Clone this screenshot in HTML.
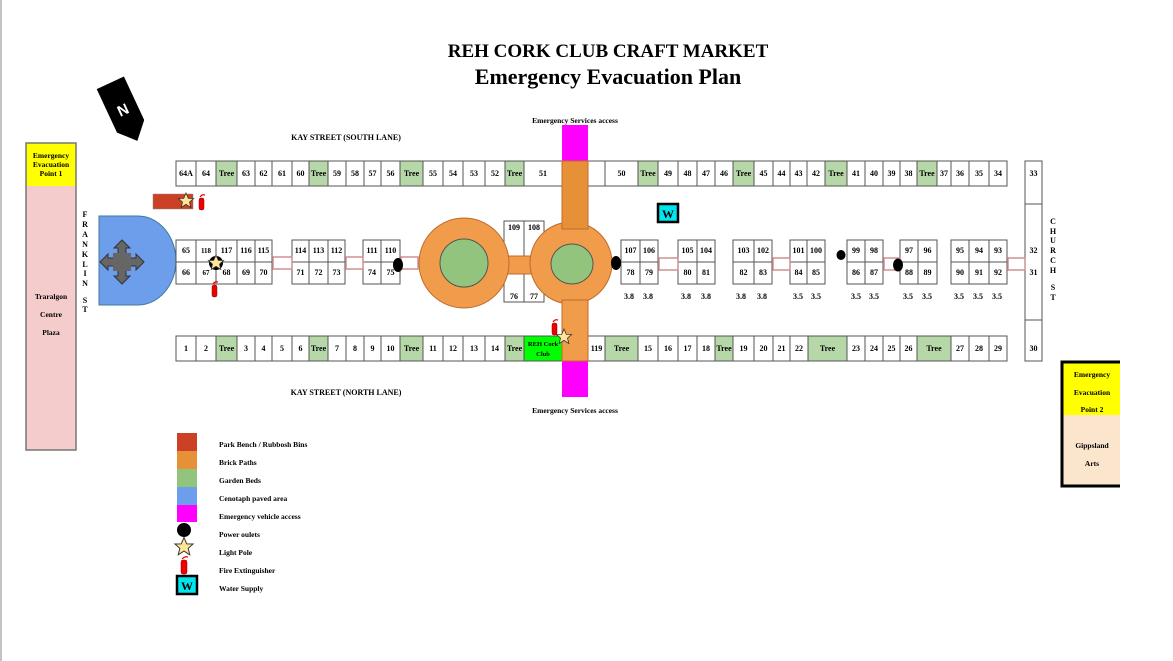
<!DOCTYPE html>
<html><head><meta charset="utf-8"><style>
html,body{margin:0;padding:0;background:#fff}
svg{display:block}
text{font-family:"Liberation Serif",serif;font-weight:bold;fill:#000}
.c{font-size:8px;text-anchor:middle}
.s rect{stroke:#555;stroke-width:1}
</style></head><body>
<svg width="1173" height="661" viewBox="0 0 1173 661" xmlns="http://www.w3.org/2000/svg">
<rect width="1173" height="661" fill="#fff"/>
<line x1="1" y1="0" x2="1" y2="661" stroke="#888" stroke-width="1"/>
<text x="608" y="57" font-size="19" text-anchor="middle">REH CORK CLUB CRAFT MARKET</text>
<text x="608" y="84" font-size="22" text-anchor="middle">Emergency Evacuation Plan</text>
<!-- North arrow -->
<g transform="translate(123,110) rotate(-25)">
<polygon points="-15,-30 15,-30 15,18 0,34 -15,18" fill="#000"/>
<text x="0" y="5" font-size="15" text-anchor="middle" style="fill:#fff;font-family:'Liberation Sans',sans-serif">N</text>
</g>
<text x="346" y="140" font-size="8" text-anchor="middle">KAY STREET (SOUTH LANE)</text>
<text x="346" y="395" font-size="8" text-anchor="middle">KAY STREET (NORTH LANE)</text>
<text x="575" y="123" font-size="7.5" text-anchor="middle">Emergency Services access</text>
<text x="575" y="413" font-size="7.5" text-anchor="middle">Emergency Services access</text>
<!-- Evac 1 -->
<rect x="26" y="143" width="50" height="43" fill="#ffff00"/>
<rect x="26" y="186" width="50" height="264" fill="#f4cccc"/>
<rect x="26" y="143" width="50" height="307" fill="none" stroke="#777" stroke-width="1.5"/>
<text x="51" y="158" font-size="7.5" text-anchor="middle">Emergency</text>
<text x="51" y="167" font-size="7.5" text-anchor="middle">Evacuation</text>
<text x="51" y="176" font-size="7.5" text-anchor="middle">Point 1</text>
<text x="51" y="299" font-size="7.5" text-anchor="middle">Traralgon</text>
<text x="51" y="317" font-size="7.5" text-anchor="middle">Centre</text>
<text x="51" y="335" font-size="7.5" text-anchor="middle">Plaza</text>
<g font-size="8" text-anchor="middle">
<text x="85" y="217">F</text><text x="85" y="227">R</text><text x="85" y="237">A</text><text x="85" y="247">N</text><text x="85" y="257">K</text><text x="85" y="267">L</text><text x="85" y="276">I</text><text x="85" y="286">N</text><text x="85" y="303">S</text><text x="85" y="312">T</text>
<text x="1053" y="224">C</text><text x="1053" y="234">H</text><text x="1053" y="243">U</text><text x="1053" y="253">R</text><text x="1053" y="263">C</text><text x="1053" y="273">H</text><text x="1053" y="290">S</text><text x="1053" y="300">T</text>
</g>
<!-- cenotaph -->
<path d="M99,216 H138 A38,45 0 0 1 176,261 A38,45 0 0 1 138,305 H99 Z" fill="#6d9eeb" stroke="#3d7a9e" stroke-width="1"/>
<polygon points="122,240 130,248 126,248 126,254 118,254 118,248 114,248" fill="#666" stroke="#333" stroke-width="1"/>
<polygon points="122,284 130,276 126,276 126,270 118,270 118,276 114,276" fill="#666" stroke="#333" stroke-width="1"/>
<polygon points="100,262 108,254 108,258 114,258 114,266 108,266 108,270" fill="#666" stroke="#333" stroke-width="1"/>
<polygon points="144,262 136,254 136,258 130,258 130,266 136,266 136,270" fill="#666" stroke="#333" stroke-width="1"/>
<rect x="113" y="253" width="18" height="18" fill="#666"/>
<!-- bench -->
<rect x="153" y="194" width="40" height="15" fill="#cc4125" stroke="#888" stroke-width="0.5"/>
<rect x="562" y="125" width="26" height="36" fill="#ff00ff"/>
<rect x="562" y="361" width="26" height="36" fill="#ff00ff"/>
<g class="s">
<rect x="176" y="161" width="20" height="25" fill="#fff"/><rect x="196" y="161" width="20" height="25" fill="#fff"/><rect x="216" y="161" width="21" height="25" fill="#b6d7a8"/><rect x="237" y="161" width="18" height="25" fill="#fff"/><rect x="255" y="161" width="17" height="25" fill="#fff"/><rect x="272" y="161" width="20" height="25" fill="#fff"/><rect x="292" y="161" width="17" height="25" fill="#fff"/><rect x="309" y="161" width="19" height="25" fill="#b6d7a8"/><rect x="328" y="161" width="18" height="25" fill="#fff"/><rect x="346" y="161" width="18" height="25" fill="#fff"/><rect x="364" y="161" width="17" height="25" fill="#fff"/><rect x="381" y="161" width="19" height="25" fill="#fff"/><rect x="400" y="161" width="23" height="25" fill="#b6d7a8"/><rect x="423" y="161" width="20" height="25" fill="#fff"/><rect x="443" y="161" width="20" height="25" fill="#fff"/><rect x="463" y="161" width="22" height="25" fill="#fff"/><rect x="485" y="161" width="20" height="25" fill="#fff"/><rect x="505" y="161" width="19" height="25" fill="#b6d7a8"/><rect x="524" y="161" width="38" height="25" fill="#fff"/><rect x="588" y="161" width="17" height="25" fill="#fff"/><rect x="605" y="161" width="33" height="25" fill="#fff"/><rect x="638" y="161" width="20" height="25" fill="#b6d7a8"/><rect x="658" y="161" width="20" height="25" fill="#fff"/><rect x="678" y="161" width="19" height="25" fill="#fff"/><rect x="697" y="161" width="18" height="25" fill="#fff"/><rect x="715" y="161" width="18" height="25" fill="#fff"/><rect x="733" y="161" width="21" height="25" fill="#b6d7a8"/><rect x="754" y="161" width="19" height="25" fill="#fff"/><rect x="773" y="161" width="17" height="25" fill="#fff"/><rect x="790" y="161" width="17" height="25" fill="#fff"/><rect x="807" y="161" width="18" height="25" fill="#fff"/><rect x="825" y="161" width="22" height="25" fill="#b6d7a8"/><rect x="847" y="161" width="18" height="25" fill="#fff"/><rect x="865" y="161" width="18" height="25" fill="#fff"/><rect x="883" y="161" width="17" height="25" fill="#fff"/><rect x="900" y="161" width="17" height="25" fill="#fff"/><rect x="917" y="161" width="20" height="25" fill="#b6d7a8"/><rect x="937" y="161" width="14" height="25" fill="#fff"/><rect x="951" y="161" width="18" height="25" fill="#fff"/><rect x="969" y="161" width="20" height="25" fill="#fff"/><rect x="989" y="161" width="18" height="25" fill="#fff"/>
<rect x="1025" y="161" width="17" height="43" fill="#fff"/><rect x="1025" y="204" width="17" height="116" fill="#fff"/><rect x="1025" y="320" width="17" height="41" fill="#fff"/>
<rect x="176" y="336" width="20" height="25" fill="#fff"/><rect x="196" y="336" width="20" height="25" fill="#fff"/><rect x="216" y="336" width="21" height="25" fill="#b6d7a8"/><rect x="237" y="336" width="18" height="25" fill="#fff"/><rect x="255" y="336" width="17" height="25" fill="#fff"/><rect x="272" y="336" width="20" height="25" fill="#fff"/><rect x="292" y="336" width="17" height="25" fill="#fff"/><rect x="309" y="336" width="19" height="25" fill="#b6d7a8"/><rect x="328" y="336" width="18" height="25" fill="#fff"/><rect x="346" y="336" width="18" height="25" fill="#fff"/><rect x="364" y="336" width="17" height="25" fill="#fff"/><rect x="381" y="336" width="19" height="25" fill="#fff"/><rect x="400" y="336" width="23" height="25" fill="#b6d7a8"/><rect x="423" y="336" width="20" height="25" fill="#fff"/><rect x="443" y="336" width="20" height="25" fill="#fff"/><rect x="463" y="336" width="22" height="25" fill="#fff"/><rect x="485" y="336" width="20" height="25" fill="#fff"/><rect x="505" y="336" width="19" height="25" fill="#b6d7a8"/><rect x="524" y="336" width="38" height="25" fill="#00ff00"/><rect x="588" y="336" width="17" height="25" fill="#fff"/><rect x="605" y="336" width="33" height="25" fill="#b6d7a8"/><rect x="638" y="336" width="20" height="25" fill="#fff"/><rect x="658" y="336" width="20" height="25" fill="#fff"/><rect x="678" y="336" width="19" height="25" fill="#fff"/><rect x="697" y="336" width="18" height="25" fill="#fff"/><rect x="715" y="336" width="18" height="25" fill="#b6d7a8"/><rect x="733" y="336" width="21" height="25" fill="#fff"/><rect x="754" y="336" width="19" height="25" fill="#fff"/><rect x="773" y="336" width="17" height="25" fill="#fff"/><rect x="790" y="336" width="18" height="25" fill="#fff"/><rect x="808" y="336" width="39" height="25" fill="#b6d7a8"/><rect x="847" y="336" width="18" height="25" fill="#fff"/><rect x="865" y="336" width="18" height="25" fill="#fff"/><rect x="883" y="336" width="17" height="25" fill="#fff"/><rect x="900" y="336" width="17" height="25" fill="#fff"/><rect x="917" y="336" width="34" height="25" fill="#b6d7a8"/><rect x="951" y="336" width="18" height="25" fill="#fff"/><rect x="969" y="336" width="20" height="25" fill="#fff"/><rect x="989" y="336" width="18" height="25" fill="#fff"/>
<rect x="176" y="240" width="20" height="22" fill="#fff"/><rect x="196" y="240" width="20" height="22" fill="#fff"/><rect x="216" y="240" width="21" height="22" fill="#fff"/><rect x="237" y="240" width="18" height="22" fill="#fff"/><rect x="255" y="240" width="17" height="22" fill="#fff"/>
<rect x="176" y="262" width="20" height="22" fill="#fff"/><rect x="196" y="262" width="20" height="22" fill="#fff"/><rect x="216" y="262" width="21" height="22" fill="#fff"/><rect x="237" y="262" width="18" height="22" fill="#fff"/><rect x="255" y="262" width="17" height="22" fill="#fff"/>
<rect x="292" y="240" width="17" height="22" fill="#fff"/><rect x="309" y="240" width="19" height="22" fill="#fff"/><rect x="328" y="240" width="17" height="22" fill="#fff"/>
<rect x="292" y="262" width="17" height="22" fill="#fff"/><rect x="309" y="262" width="19" height="22" fill="#fff"/><rect x="328" y="262" width="17" height="22" fill="#fff"/>
<rect x="363" y="240" width="18" height="22" fill="#fff"/><rect x="381" y="240" width="19" height="22" fill="#fff"/>
<rect x="363" y="262" width="18" height="22" fill="#fff"/><rect x="381" y="262" width="19" height="22" fill="#fff"/>
<rect x="504" y="221" width="20" height="81" fill="#fff"/><rect x="524" y="221" width="20" height="81" fill="#fff"/>
<rect x="621" y="240" width="19" height="22" fill="#fff"/><rect x="640" y="240" width="18" height="22" fill="#fff"/><rect x="621" y="262" width="19" height="22" fill="#fff"/><rect x="640" y="262" width="18" height="22" fill="#fff"/>
<rect x="678" y="240" width="19" height="22" fill="#fff"/><rect x="697" y="240" width="18" height="22" fill="#fff"/><rect x="678" y="262" width="19" height="22" fill="#fff"/><rect x="697" y="262" width="18" height="22" fill="#fff"/>
<rect x="733" y="240" width="21" height="22" fill="#fff"/><rect x="754" y="240" width="18" height="22" fill="#fff"/><rect x="733" y="262" width="21" height="22" fill="#fff"/><rect x="754" y="262" width="18" height="22" fill="#fff"/>
<rect x="790" y="240" width="17" height="22" fill="#fff"/><rect x="807" y="240" width="18" height="22" fill="#fff"/><rect x="790" y="262" width="17" height="22" fill="#fff"/><rect x="807" y="262" width="18" height="22" fill="#fff"/>
<rect x="847" y="240" width="18" height="22" fill="#fff"/><rect x="865" y="240" width="18" height="22" fill="#fff"/><rect x="847" y="262" width="18" height="22" fill="#fff"/><rect x="865" y="262" width="18" height="22" fill="#fff"/>
<rect x="900" y="240" width="18" height="22" fill="#fff"/><rect x="918" y="240" width="19" height="22" fill="#fff"/><rect x="900" y="262" width="18" height="22" fill="#fff"/><rect x="918" y="262" width="19" height="22" fill="#fff"/>
<rect x="951" y="240" width="18" height="22" fill="#fff"/><rect x="969" y="240" width="20" height="22" fill="#fff"/><rect x="989" y="240" width="18" height="22" fill="#fff"/><rect x="951" y="262" width="18" height="22" fill="#fff"/><rect x="969" y="262" width="20" height="22" fill="#fff"/><rect x="989" y="262" width="18" height="22" fill="#fff"/>
</g>
<g fill="#fff" stroke="#d09090" stroke-width="1.5">
<rect x="273" y="257" width="19" height="12"/><rect x="346" y="257" width="17" height="12"/><rect x="401" y="257" width="17" height="12"/><rect x="659" y="258" width="19" height="12"/><rect x="773" y="258" width="17" height="12"/><rect x="884" y="258" width="16" height="12"/><rect x="1008" y="258" width="17" height="12"/>
</g>
<rect x="504" y="256" width="40" height="18" fill="#f19c4b" stroke="#c06a2a" stroke-width="1"/>
<circle cx="464" cy="263" r="45" fill="#f19c4b" stroke="#c06a2a" stroke-width="1"/>
<ellipse cx="464" cy="263" rx="24" ry="24" fill="#93c47d" stroke="#555" stroke-width="1"/>
<circle cx="571" cy="263" r="41" fill="#f19c4b" stroke="#c06a2a" stroke-width="1"/>
<ellipse cx="572" cy="264" rx="21" ry="20" fill="#93c47d" stroke="#555" stroke-width="1"/>
<rect x="562" y="161" width="26" height="68" fill="#e69138" stroke="#c06a2a" stroke-width="1"/>
<rect x="562" y="300" width="26" height="61" fill="#f19c4b" stroke="#c06a2a" stroke-width="1"/>
<g class="c">
<text x="186" y="176">64A</text><text x="206" y="176">64</text><text x="226.5" y="176">Tree</text><text x="246" y="176">63</text><text x="263.5" y="176">62</text><text x="282" y="176">61</text><text x="300.5" y="176">60</text><text x="318.5" y="176">Tree</text><text x="337" y="176">59</text><text x="355" y="176">58</text><text x="372.5" y="176">57</text><text x="390.5" y="176">56</text><text x="411.5" y="176">Tree</text><text x="433" y="176">55</text><text x="453" y="176">54</text><text x="474" y="176">53</text><text x="495" y="176">52</text><text x="514.5" y="176">Tree</text><text x="543" y="176">51</text><text x="621.5" y="176">50</text><text x="648" y="176">Tree</text><text x="668" y="176">49</text><text x="687.5" y="176">48</text><text x="706" y="176">47</text><text x="724" y="176">46</text><text x="743.5" y="176">Tree</text><text x="763.5" y="176">45</text><text x="781.5" y="176">44</text><text x="798.5" y="176">43</text><text x="816" y="176">42</text><text x="836" y="176">Tree</text><text x="856" y="176">41</text><text x="874" y="176">40</text><text x="891.5" y="176">39</text><text x="908.5" y="176">38</text><text x="927" y="176">Tree</text><text x="944" y="176">37</text><text x="960" y="176">36</text><text x="979" y="176">35</text><text x="998" y="176">34</text>
<text x="1033.5" y="176">33</text><text x="1033.5" y="253">32</text><text x="1033.5" y="275">31</text><text x="1033.5" y="351">30</text>
<text x="186" y="351">1</text><text x="206" y="351">2</text><text x="226.5" y="351">Tree</text><text x="246" y="351">3</text><text x="263.5" y="351">4</text><text x="282" y="351">5</text><text x="300.5" y="351">6</text><text x="318.5" y="351">Tree</text><text x="337" y="351">7</text><text x="355" y="351">8</text><text x="372.5" y="351">9</text><text x="390.5" y="351">10</text><text x="411.5" y="351">Tree</text><text x="433" y="351">11</text><text x="453" y="351">12</text><text x="474" y="351">13</text><text x="495" y="351">14</text><text x="514.5" y="351">Tree</text><text x="596.5" y="351">119</text><text x="621.5" y="351">Tree</text><text x="648" y="351">15</text><text x="668" y="351">16</text><text x="687.5" y="351">17</text><text x="706" y="351">18</text><text x="724" y="351">Tree</text><text x="743.5" y="351">19</text><text x="763.5" y="351">20</text><text x="781.5" y="351">21</text><text x="799" y="351">22</text><text x="827.5" y="351">Tree</text><text x="856" y="351">23</text><text x="874" y="351">24</text><text x="891.5" y="351">25</text><text x="908.5" y="351">26</text><text x="934" y="351">Tree</text><text x="960" y="351">27</text><text x="979" y="351">28</text><text x="998" y="351">29</text>
<g style="font-family:'Liberation Sans',sans-serif;font-weight:normal;font-size:6.5px"><text x="543" y="346">REH Cork</text><text x="543" y="356">Club</text></g>
<text x="186" y="253">65</text><text x="206" y="253" font-size="7">118</text><text x="226.5" y="253">117</text><text x="246" y="253">116</text><text x="263.5" y="253">115</text>
<text x="186" y="275">66</text><text x="206" y="275" font-size="7">67</text><text x="226.5" y="275">68</text><text x="246" y="275">69</text><text x="263.5" y="275">70</text>
<text x="300.5" y="253">114</text><text x="318.5" y="253">113</text><text x="336.5" y="253">112</text><text x="300.5" y="275">71</text><text x="318.5" y="275">72</text><text x="336.5" y="275">73</text>
<text x="372" y="253">111</text><text x="390.5" y="253">110</text><text x="372" y="275">74</text><text x="390.5" y="275">75</text>
<text x="514" y="230">109</text><text x="534" y="230">108</text><text x="514" y="299">76</text><text x="534" y="299">77</text>
<text x="630.5" y="253">107</text><text x="649" y="253">106</text><text x="630.5" y="275">78</text><text x="649" y="275">79</text>
<text x="687.5" y="253">105</text><text x="706" y="253">104</text><text x="687.5" y="275">80</text><text x="706" y="275">81</text>
<text x="743.5" y="253">103</text><text x="763" y="253">102</text><text x="743.5" y="275">82</text><text x="763" y="275">83</text>
<text x="798.5" y="253">101</text><text x="816" y="253">100</text><text x="798.5" y="275">84</text><text x="816" y="275">85</text>
<text x="856" y="253">99</text><text x="874" y="253">98</text><text x="856" y="275">86</text><text x="874" y="275">87</text>
<text x="909" y="253">97</text><text x="927.5" y="253">96</text><text x="909" y="275">88</text><text x="927.5" y="275">89</text>
<text x="960" y="253">95</text><text x="979" y="253">94</text><text x="998" y="253">93</text><text x="960" y="275">90</text><text x="979" y="275">91</text><text x="998" y="275">92</text>
<text x="629" y="299">3.8</text><text x="648" y="299">3.8</text><text x="686" y="299">3.8</text><text x="706" y="299">3.8</text><text x="741" y="299">3.8</text><text x="762" y="299">3.8</text>
<text x="798" y="299">3.5</text><text x="816" y="299">3.5</text><text x="856" y="299">3.5</text><text x="874" y="299">3.5</text><text x="908" y="299">3.5</text><text x="927" y="299">3.5</text><text x="959" y="299">3.5</text><text x="978" y="299">3.5</text><text x="997" y="299">3.5</text>
</g>
<g fill="#000">
<ellipse cx="398" cy="265" rx="5" ry="7"/><ellipse cx="616" cy="263" rx="5" ry="7"/><ellipse cx="841" cy="255" rx="4.5" ry="5"/><ellipse cx="898" cy="265" rx="5" ry="6.5"/>
<circle cx="216" cy="263" r="7"/>
</g>
<defs><polygon id="st" points="0,-8 2.3,-2.6 7.6,-2.5 3.5,1.1 4.8,6.5 0,3.4 -4.8,6.5 -3.5,1.1 -7.6,-2.5 -2.3,-2.6" fill="#ffe599" stroke="#333" stroke-width="0.8"/></defs>
<use href="#st" x="186" y="201"/><use href="#st" x="216" y="263"/><use href="#st" x="564" y="337"/>
<g fill="#e00" stroke="#900" stroke-width="0.5">
<rect x="199" y="198" width="5" height="12" rx="2"/><rect x="212" y="285" width="5" height="12" rx="2"/><rect x="552" y="323" width="5" height="12" rx="2"/>
<rect x="181" y="560" width="6" height="14" rx="2"/>
</g>
<g fill="none" stroke="#e00" stroke-width="1.2"><path d="M200,197 q2,-3 5,-2"/><path d="M213,284 q2,-3 5,-2"/><path d="M553,322 q2,-3 5,-2"/><path d="M182,559 q3,-3 6,-2"/></g>
<rect x="658" y="204" width="20" height="18" fill="#00e5ee" stroke="#000" stroke-width="2.5"/>
<text x="668" y="218" font-size="12" text-anchor="middle">W</text>
<rect x="1062" y="362" width="58" height="53" fill="#ffff00"/>
<rect x="1062" y="415" width="58" height="71" fill="#fce5cd"/>
<path d="M1120,362 H1062 V486 H1120" fill="none" stroke="#000" stroke-width="3"/>
<g font-size="7.5" text-anchor="middle"><text x="1092" y="377">Emergency</text><text x="1092" y="395">Evacuation</text><text x="1092" y="412">Point 2</text><text x="1092" y="448">Gippsland</text><text x="1092" y="466">Arts</text></g>
<rect x="177" y="433" width="20" height="18" fill="#cc4125"/>
<rect x="177" y="451" width="20" height="18" fill="#e69138"/>
<rect x="177" y="469" width="20" height="18" fill="#93c47d"/>
<rect x="177" y="487" width="20" height="18" fill="#6d9eeb"/>
<rect x="177" y="505" width="20" height="17" fill="#ff00ff"/>
<circle cx="184" cy="530" r="7" fill="#000"/>
<use href="#st" x="184" y="547" transform="translate(-36.8 -109.4) scale(1.2)"/>
<rect x="177" y="576" width="20" height="18" fill="#00e5ee" stroke="#000" stroke-width="2.5"/>
<text x="187" y="590" font-size="12" text-anchor="middle">W</text>
<g font-size="7.5"><text x="219" y="447">Park Bench / Rubbosh Bins</text><text x="219" y="465">Brick Paths</text><text x="219" y="483">Garden Beds</text><text x="219" y="501">Cenotaph paved area</text><text x="219" y="519">Emergency vehicle access</text><text x="219" y="537">Power oulets</text><text x="219" y="555">Light Pole</text><text x="219" y="573">Fire Extinguisher</text><text x="219" y="591">Water Supply</text></g>
</svg>
</body></html>
